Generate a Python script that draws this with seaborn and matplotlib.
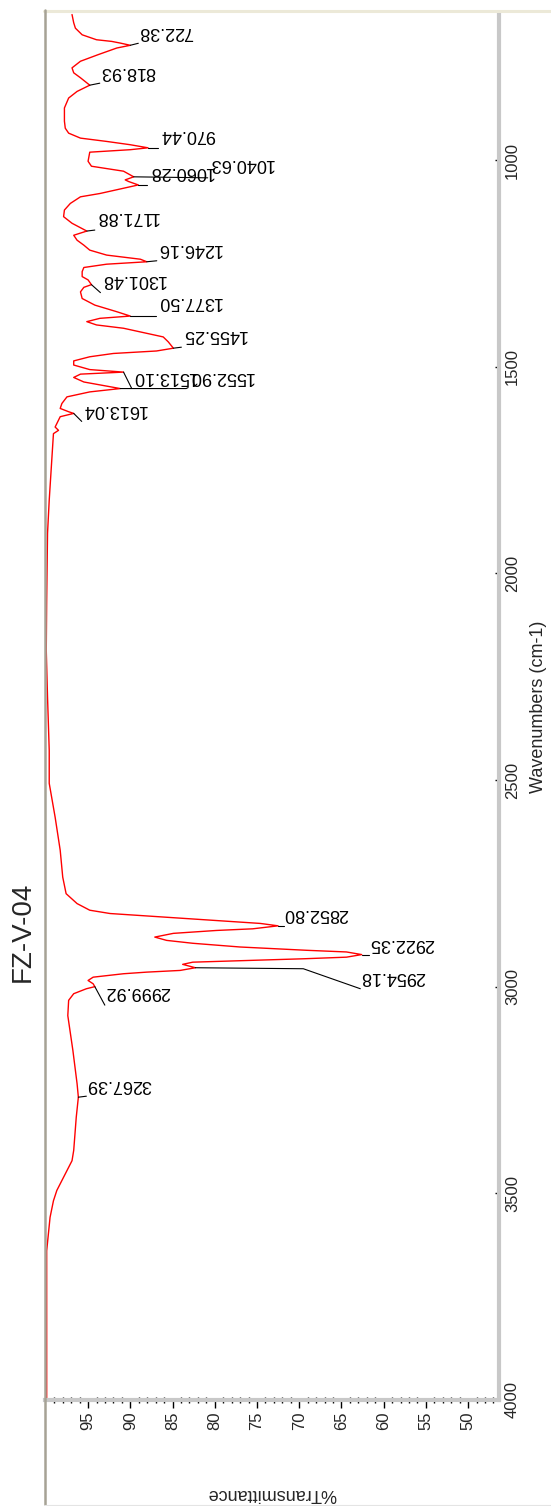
import numpy as np
import pandas as pd
import matplotlib
matplotlib.use("Agg")
import matplotlib.pyplot as plt
import seaborn as sns
from matplotlib.lines import Line2D

# IR spectrum (wavenumber in cm-1, %Transmittance)
wavenumbers = [648, 668, 681, 697, 709, 713, 717, 722.38, 729, 745, 761, 777, 789, 801,
               818.93, 834, 850, 874, 906, 923, 935, 947, 955, 963, 970.44, 975, 981,
               1003, 1015, 1027, 1040.63, 1048, 1052, 1060.28, 1072, 1081, 1089, 1105,
               1121, 1137, 1153, 1171.88, 1182, 1194, 1206, 1218, 1230, 1240, 1246.16,
               1252, 1260, 1270, 1282, 1290, 1301.48, 1308, 1319, 1335, 1351, 1367,
               1377.50, 1383, 1391, 1399, 1407, 1416, 1428, 1440, 1455.25, 1462, 1468,
               1476, 1486, 1496, 1507, 1513.10, 1518, 1526, 1537, 1547, 1552.90, 1561,
               1573, 1589, 1601, 1609, 1613.04, 1621, 1646, 1654, 1662, 1742, 1823, 1903,
               2065, 2186, 2300, 2428, 2508, 2590, 2670, 2735, 2775, 2799, 2815, 2823,
               2832, 2840, 2847, 2852.80, 2860, 2864, 2871, 2880, 2888, 2895, 2904, 2912,
               2916, 2922.35, 2928.6, 2932.5, 2936.6, 2940.7, 2946, 2954.18, 2960.7,
               2964.8, 2968.7, 2977, 2985, 2993, 2999.92, 3005, 3017, 3033, 3070, 3154,
               3235, 3267.39, 3316, 3396, 3421, 3445, 3469, 3493, 3518, 3558, 3598, 3639,
               3700, 4000]
transmittance = [96.9, 96.7, 96.5, 95.7, 94.0, 92.2, 91.2, 90.0, 91.6, 93.8, 95.9, 96.9, 96.7, 95.9,
                 94.8, 96.3, 97.3, 97.8, 97.8, 97.7, 97.3, 95.9, 92.8, 90.0, 87.9, 90.0, 94.8,
                 95.0, 94.6, 90.8, 89.6, 90.6, 90.2, 89.05, 91.6, 93.6, 95.9, 97.1,
                 97.8, 97.9, 96.9, 95.15, 96.7, 96.3, 95.5, 94.8, 92.8, 88.8, 88.05,
                 92.8, 95.5, 95.7, 95.7, 95.0, 94.6, 95.5, 95.9, 95.7, 94.2, 91.6,
                 90.0, 93.6, 95.15, 94.0, 90.8, 88.8, 86.1, 85.5, 84.9, 86.9, 92.0,
                 94.8, 96.7, 96.7, 94.8, 90.8, 95.9, 96.7, 95.5, 92.8, 91.2, 94.8,
                 97.5, 98.1, 98.3, 97.3, 96.7, 98.3, 98.9, 98.5, 99.1, 99.35, 99.6, 99.8,
                 99.9, 99.95, 99.8, 99.6, 99.6, 98.9, 98.3, 98.0, 97.6, 96.3, 94.8, 92.4,
                 85.7, 79.8, 74.6, 72.5, 75.5, 79.8, 84.9, 87.1, 85.7, 82.6, 77.0, 69.1,
                 64.4, 62.6, 64.4, 69.5, 76.0, 82.6, 83.8, 82.3, 84.1,
                 88.05, 90.8, 94.4, 95.0, 94.4, 94.2, 95.2, 96.7, 97.3, 97.4, 96.8,
                 96.3, 96.15, 96.4, 96.7, 96.9, 97.5, 98.1, 98.7, 99.1, 99.5, 99.7, 99.9,
                 99.9, 99.9]

peak_wavenumbers = [722.38, 818.93, 970.44, 1040.63, 1060.28, 1171.88, 1246.16, 1301.48,
                    1377.50, 1455.25, 1513.10, 1552.90, 1613.04, 2852.80, 2922.35,
                    2954.18, 2999.92, 3267.39]
peak_labels = [f"{w:.2f}" for w in peak_wavenumbers]

# label placement: pixel offsets from the peak (right, down)
label_layout = {
    "722.38": dict(leader=[(8, -2)], text=(8, -5.3)),
    "818.93": dict(leader=[(10, -2)], text=(10, -5.5)),
    "970.44": dict(leader=[(10, 0)], text=(12, -4.8)),
    "1040.63": dict(leader=[(74, 1)], text=(75, -4.8)),
    "1060.28": dict(leader=[(9, 0)], text=(10, -4.9)),
    "1171.88": dict(leader=[(8, -1)], text=(8.3, -6)),
    "1246.16": dict(leader=[(10, -1)], text=(10, -5)),
    "1301.48": dict(leader=[(9, 8)], text=(9.6, 3.7)),
    "1377.50": dict(leader=[(26, 0)], text=(26.4, -6)),
    "1455.25": dict(leader=[(8, -1)], text=(8.3, -4.9)),
    "1513.10": dict(leader=[(8, 16)], text=(8.2, 13)),
    "1552.90": dict(leader=[(66, 0), (68, -1)], text=(68, -3.4)),
    "1613.04": dict(leader=[(8, 8)], text=(8, 5)),
    "2852.80": dict(leader=[(6, 0)], text=(5, -4)),
    "2922.35": dict(leader=[(7, 0)], text=(7, -2.5)),
    "2954.18": dict(leader=[(108, 1), (165, 21)], text=(165, 17.6)),
    "2999.92": dict(leader=[(10, 18.5)], text=(10, 13.5)),
    "3267.39": dict(leader=[(8, -1)], text=(8.4, -4.6)),
}

sns.set_style("white")
plt.rcParams['font.family'] = ['Liberation Sans', 'DejaVu Sans']

W, H = 551, 1506
fig = plt.figure(figsize=(W / 100, H / 100), dpi=100)
ax = fig.add_axes([45 / W, 106 / H, 453.5 / W, 1386.7 / H])

df = pd.DataFrame({"Wavenumber": wavenumbers, "Transmittance": transmittance})
sns.lineplot(data=df, x="Transmittance", y="Wavenumber", sort=False, estimator=None,
             color="#ff0000", lw=1.0, ax=ax)

ax.set_xlim(100.1, 46.4)
ax.set_ylim(4000, 645)

for side in ["left", "top"]:
    ax.spines[side].set_visible(False)
for side in ["right", "bottom"]:
    ax.spines[side].set_color("#c8c8c8")
    ax.spines[side].set_linewidth(3)

ax.yaxis.tick_right()
ax.yaxis.set_label_position("right")
ax.set_xticks(np.arange(50, 96, 5))
ax.set_xticks(np.arange(47, 100, 1), minor=True)
ax.set_yticks(np.arange(1000, 4001, 500))
ax.set_yticks(np.arange(700, 4001, 100), minor=True)

ax.tick_params(axis="x", which="major", direction="out", length=5.5, width=1, color="black",
               pad=3, labelsize=12, labelrotation=90, bottom=True)
ax.tick_params(axis="x", which="minor", direction="inout", length=4, width=1, color="black",
               bottom=True)
ax.tick_params(axis="y", which="major", direction="in", length=3, width=1, color="black",
               pad=4.7, labelsize=12, labelrotation=90, right=True, left=False,
               labelright=True, labelleft=False)
ax.tick_params(axis="y", which="minor", direction="in", length=1.5, width=1, color="black",
               right=True, left=False)
plt.setp(ax.get_yticklabels(), va="center")

ax.set_xlabel("%Transmittance", fontsize=13, rotation=180, ha="center", va="center")
ax.xaxis.set_label_coords(0.5005, -0.0671)
ax.set_ylabel("Wavenumbers (cm-1)", fontsize=13, rotation=90, ha="center", va="center")
ax.yaxis.set_label_coords(1.0893, 0.5)

# peak labels with leader lines
inv = ax.transData.inverted()
for wn, lab in zip(peak_wavenumbers, peak_labels):
    t = transmittance[wavenumbers.index(wn)]
    p = ax.transData.transform((t, wn))
    lay = label_layout[lab]
    pts = [p] + [p + np.array([dx, -dy]) for dx, dy in lay["leader"]]
    pts = inv.transform(np.array(pts))
    ax.plot(pts[:, 0], pts[:, 1], color="black", lw=0.8, clip_on=False)
    tx, ty = inv.transform(p + np.array([lay["text"][0], -lay["text"][1]]))
    ax.text(tx, ty, lab, rotation=180, rotation_mode="anchor", ha="right", va="top",
            fontsize=13, color="black")

fig.text(22.5 / W, 1 - 932 / H, "FZ-V-04", rotation=90, fontsize=20, ha="center", va="center")

# window frame
fig.add_artist(Line2D([44 / W, 1], [1 - 10.5 / H] * 2, color="#ece9d8", lw=2.2,
                      transform=fig.transFigure))
fig.add_artist(Line2D([44.5 / W] * 2, [0, 1 - 10 / H], color="#a6a295", lw=1.8,
                      transform=fig.transFigure))
fig.add_artist(Line2D([44 / W, 1], [1 - 1504.5 / H] * 2, color="#e4e4e4", lw=0.8,
                      transform=fig.transFigure))

fig.savefig("out.png", dpi=100)
